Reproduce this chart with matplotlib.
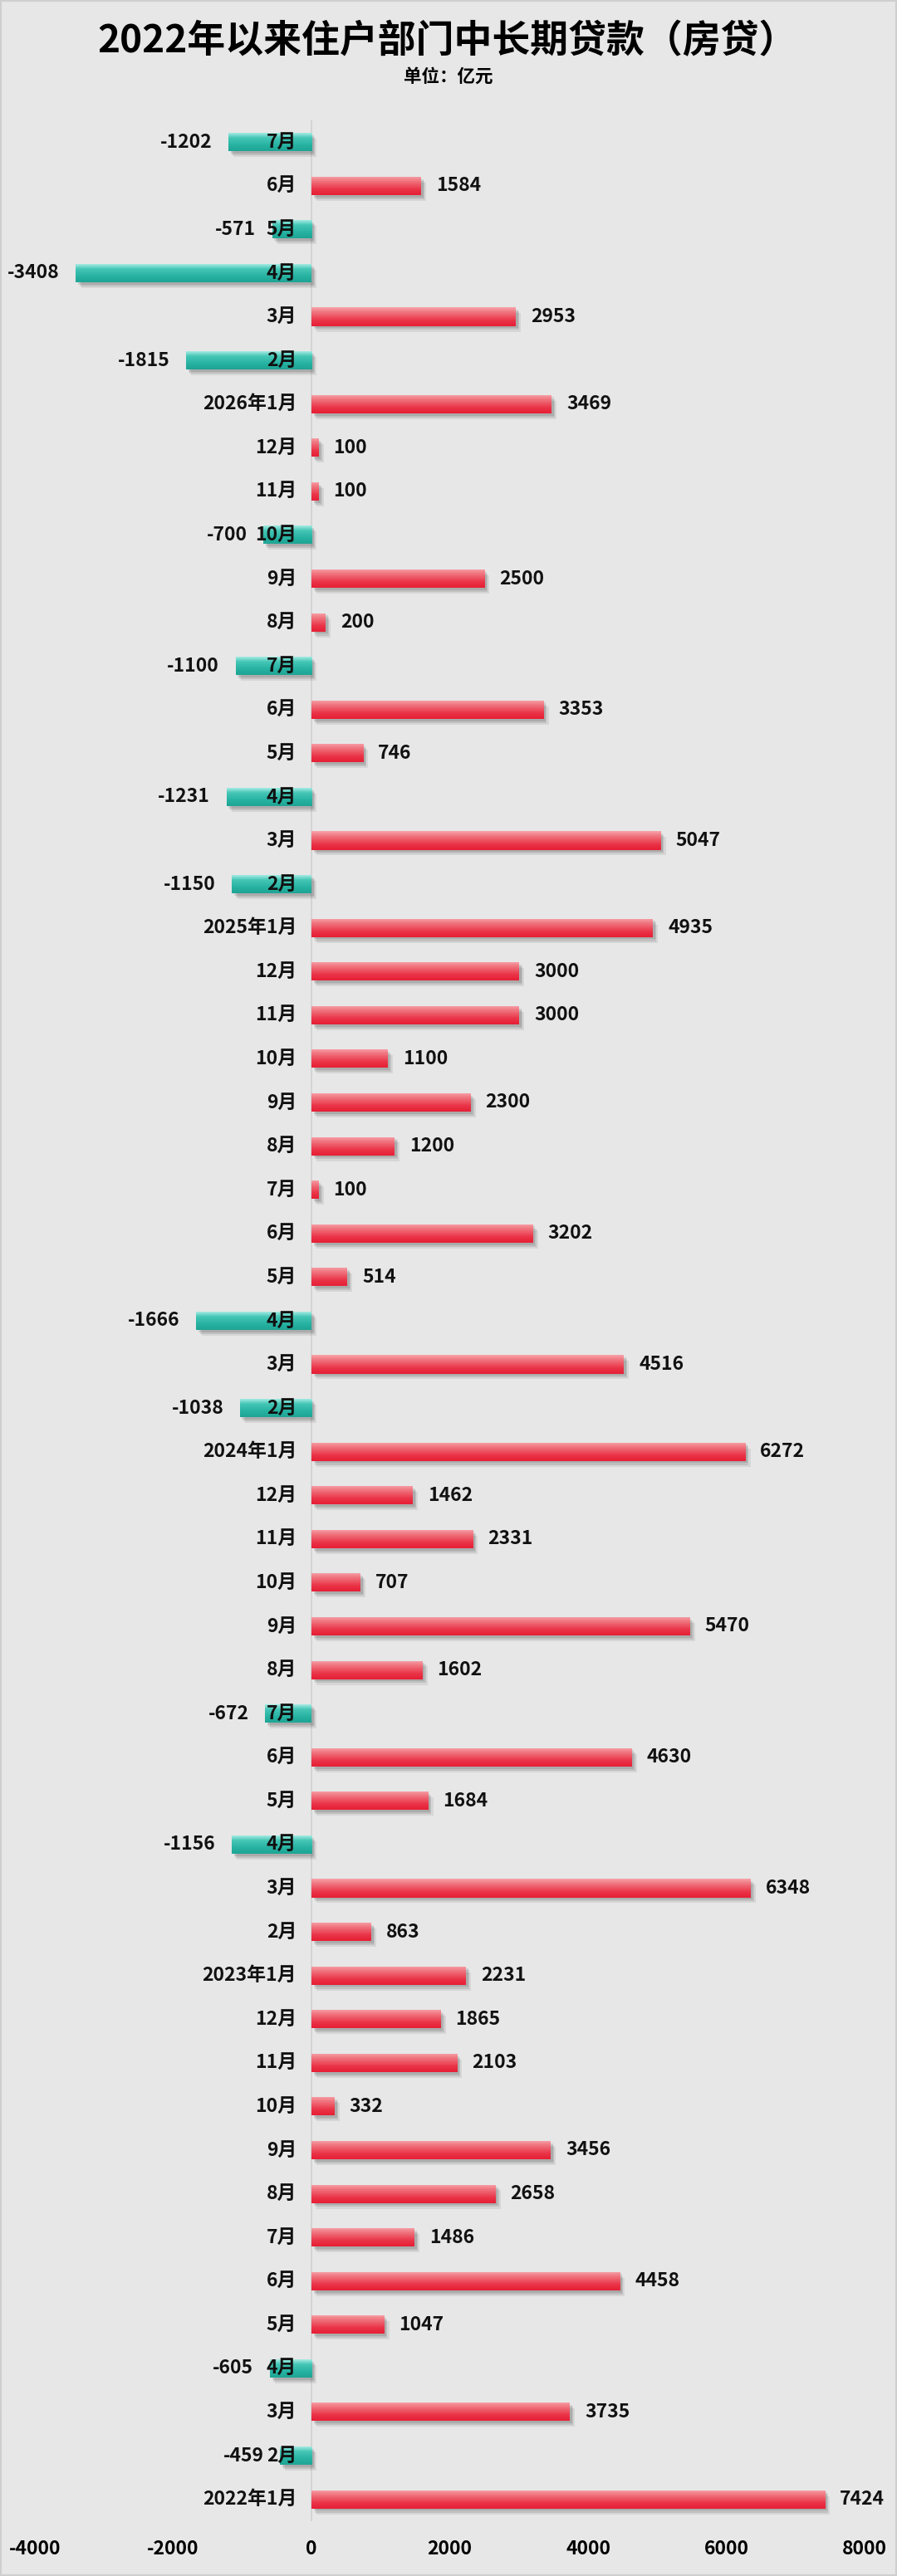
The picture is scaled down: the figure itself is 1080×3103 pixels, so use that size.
import numpy as np
import matplotlib.pyplot as plt
import matplotlib.patheffects as pe
from matplotlib.colors import to_rgb
from matplotlib.patches import Rectangle

plt.rcParams['font.family'] = ['Noto Sans CJK SC', 'DejaVu Sans']

# categories, top to bottom as shown
months_2026 = ["7月", "6月", "5月", "4月", "3月", "2月", "2026年1月"]
values_2026 = [-1202, 1584, -571, -3408, 2953, -1815, 3469]

months_2025 = ["12月", "11月", "10月", "9月", "8月", "7月", "6月", "5月",
               "4月", "3月", "2月", "2025年1月"]
values_2025 = [100, 100, -700, 2500, 200, -1100, 3353, 746, -1231, 5047, -1150, 4935]

months_2024 = ["12月", "11月", "10月", "9月", "8月", "7月", "6月", "5月",
               "4月", "3月", "2月", "2024年1月"]
values_2024 = [3000, 3000, 1100, 2300, 1200, 100, 3202, 514, -1666, 4516, -1038, 6272]

months_2023 = ["12月", "11月", "10月", "9月", "8月", "7月", "6月", "5月",
               "4月", "3月", "2月", "2023年1月"]
values_2023 = [1462, 2331, 707, 5470, 1602, -672, 4630, 1684, -1156, 6348, 863, 2231]

months_2022 = ["12月", "11月", "10月", "9月", "8月", "7月", "6月", "5月",
               "4月", "3月", "2月", "2022年1月"]
values_2022 = [1865, 2103, 332, 3456, 2658, 1486, 4458, 1047, -605, 3735, -459, 7424]

labels = months_2026 + months_2025 + months_2024 + months_2023 + months_2022
values = values_2026 + values_2025 + values_2024 + values_2023 + values_2022

x_ticks = [-4000, -2000, 0, 2000, 4000, 6000, 8000]

BG = "#E7E7E7"
RED_STOPS = [(0, "#F7A3AA"), (0.25, "#F07680"), (0.7, "#EA3347"), (1, "#E61E35")]
TEAL_STOPS = [(0, "#B4F1EA"), (0.3, "#45C6B6"), (0.7, "#26B1A1"), (1, "#1EA494")]


def gradient(stops, n=64):
    pos = [s[0] for s in stops]
    cols = np.array([to_rgb(s[1]) for s in stops])
    t = np.linspace(0, 1, n)
    arr = np.stack([np.interp(t, pos, cols[:, k]) for k in range(3)], axis=-1)
    return arr[:, None, :]


red_img = gradient(RED_STOPS)
teal_img = gradient(TEAL_STOPS)

fig = plt.figure(figsize=(10.8, 31.03), dpi=100, facecolor=BG)
ax = fig.add_axes([0.039, 0.0213, 0.925, 0.932])
ax.set_facecolor(BG)

n = len(values)
y = np.arange(n)

ax.axvline(0, color="#D4D4D4", lw=1.5, zorder=1)

# soft drop shadow, stacked
shadow = [
    pe.SimplePatchShadow(offset=(2, -2), shadow_rgbFace="#000000", alpha=0.10),
    pe.SimplePatchShadow(offset=(3, -3.5), shadow_rgbFace="#000000", alpha=0.10),
    pe.SimplePatchShadow(offset=(4.5, -5), shadow_rgbFace="#000000", alpha=0.07),
    pe.Normal(),
]

bars = ax.barh(y, values, height=0.42, color="#E8283C", zorder=3,
               path_effects=shadow)

for bar, v in zip(bars, values):
    x0 = bar.get_x()
    w = bar.get_width()
    y0 = bar.get_y()
    h = bar.get_height()
    bar.set_facecolor("#E8283C" if v >= 0 else "#22A898")
    img = red_img if v >= 0 else teal_img
    im = ax.imshow(img, extent=[x0, x0 + w, y0 + h, y0], aspect="auto",
                   origin="upper", zorder=4, interpolation="bilinear")
    im.set_clip_path(bar)

for yi, lab, v in zip(y, labels, values):
    ax.annotate(lab, xy=(0, yi), xytext=(-13, 0), textcoords="offset points",
                ha="right", va="center", fontsize=16.5, fontweight="bold",
                color="#111111", zorder=6)
    off = 13 if v >= 0 else -14
    ax.annotate(str(v), xy=(v, yi), xytext=(off, 0), textcoords="offset points",
                ha="left" if v >= 0 else "right", va="center",
                fontsize=16.5, fontweight="bold", color="#111111", zorder=6)

ax.set_xlim(-4000, 8000)
ax.set_ylim(n - 0.5, -0.5)
ax.set_xticks(x_ticks)
ax.set_xticklabels([str(t) for t in x_ticks], fontsize=16.5, fontweight="bold")
ax.set_yticks([])
ax.tick_params(axis="x", length=0, pad=16)
for s in ax.spines.values():
    s.set_visible(False)

fig.text(0.499, 0.9839, "2022年以来住户部门中长期贷款（房贷）", ha="center", va="center",
         fontsize=33, fontweight="heavy", color="#000000")
fig.text(0.5, 0.9704, "单位：亿元", ha="center", va="center",
         fontsize=15.5, fontweight="bold", color="#000000")

fig.patches.append(Rectangle((0, 0), 1, 1, transform=fig.transFigure,
                             fill=False, ec="#CFCFCF", lw=3))

fig.savefig("out.png", dpi=100, facecolor=BG)
